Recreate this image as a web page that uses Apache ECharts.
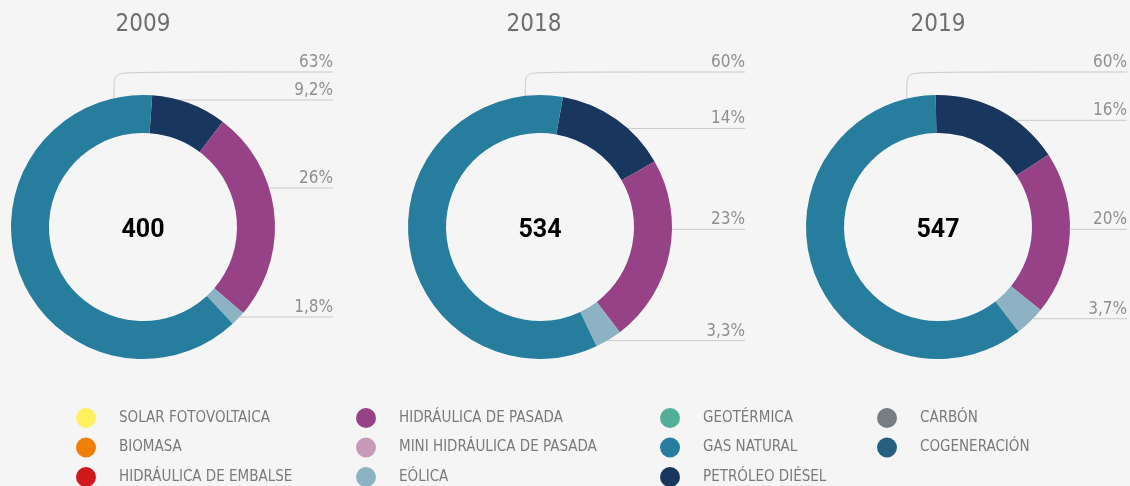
<!DOCTYPE html>
<html>
<head>
<meta charset="utf-8">
<script src="https://cdn.jsdelivr.net/npm/echarts@6/dist/echarts.min.js"></script>
<style>
  html, body { margin: 0; padding: 0; background: #f5f5f5; }
  #main { width: 1130px; height: 486px; }
</style>
</head>
<body>
<div id="main"></div>
<script>
// categories (legend order)
const categories = [
  'SOLAR FOTOVOLTAICA',
  'BIOMASA',
  'HIDRÁULICA DE EMBALSE',
  'HIDRÁULICA DE PASADA',
  'MINI HIDRÁULICA DE PASADA',
  'EÓLICA',
  'GEOTÉRMICA',
  'GAS NATURAL',
  'PETRÓLEO DIÉSEL',
  'CARBÓN',
  'COGENERACIÓN',
]
const colors = [
  '#fff05f', '#f07f0a', '#d0171c', '#974287', '#c79ab9', '#8cb2c3',
  '#52ae98', '#267d9d', '#18365e', '#767d83', '#27607f',
]
const years = ['2009', '2018', '2019']
const totals = [400, 534, 547]
// share in %, same order as categories
const share2009 = [0, 0, 0, 26, 0, 1.8, 0, 63, 9.2, 0, 0]
const share2018 = [0, 0, 0, 23, 0, 3.3, 0, 60, 14, 0, 0]
const share2019 = [0, 0, 0, 20, 0, 3.7, 0, 60, 16, 0, 0]
const shares = [share2009, share2018, share2019]
// clockwise drawing order of the ring
const ringOrder = [
  'PETRÓLEO DIÉSEL', 'HIDRÁULICA DE PASADA', 'EÓLICA', 'GAS NATURAL',
  'SOLAR FOTOVOLTAICA', 'BIOMASA', 'HIDRÁULICA DE EMBALSE',
  'MINI HIDRÁULICA DE PASADA', 'GEOTÉRMICA', 'CARBÓN', 'COGENERACIÓN',
]
const legendColumns = [
  ['SOLAR FOTOVOLTAICA', 'BIOMASA', 'HIDRÁULICA DE EMBALSE'],
  ['HIDRÁULICA DE PASADA', 'MINI HIDRÁULICA DE PASADA', 'EÓLICA'],
  ['GEOTÉRMICA', 'GAS NATURAL', 'PETRÓLEO DIÉSEL'],
  ['CARBÓN', 'COGENERACIÓN'],
]

// layout of each donut (pixels) and where leader lines leave the ring
// (degrees clockwise from 12 o'clock)
const NARROW = "'Liberation Sans Narrow', 'DejaVu Sans Condensed', 'Roboto', sans-serif"
const R_IN = 94
const R_OUT = 132
const TOP_LINE = 72
const donuts = [
  { cx: 143, cy: 227, start: 86, edge: 333, titleX: 143,
    leader: { 'PETRÓLEO DIÉSEL': 15.8, 'HIDRÁULICA DE PASADA': 72.8, 'EÓLICA': 133, 'GAS NATURAL': -12.7 } },
  { cx: 540, cy: 227, start: 80, edge: 745, titleX: 534,
    leader: { 'PETRÓLEO DIÉSEL': 41.7, 'HIDRÁULICA DE PASADA': 91, 'EÓLICA': 149.4, 'GAS NATURAL': -6.4 } },
  { cx: 938, cy: 227, start: 91, edge: 1127, titleX: 938,
    leader: { 'PETRÓLEO DIÉSEL': 36.1, 'HIDRÁULICA DE PASADA': 91, 'EÓLICA': 134, 'GAS NATURAL': -13.7 } },
]

function fmtPct(v) {
  return String(v).replace('.', ',') + '%'
}

function buildSeries(d, i) {
  const data = ringOrder.map((name) => {
    const idx = categories.indexOf(name)
    const value = shares[i][idx]
    const item = { name: name, value: value, itemStyle: { color: colors[idx] } }
    if (!value) {
      item.label = { show: false }
      item.labelLine = { show: false }
    }
    return item
  })
  return {
    type: 'pie',
    name: years[i],
    center: [d.cx, d.cy],
    radius: [R_IN, R_OUT],
    startAngle: d.start,
    clockwise: true,
    silent: true,
    avoidLabelOverlap: false,
    label: {
      show: true,
      position: 'outside',
      formatter: (p) => fmtPct(p.value),
      color: '#8f8f8f',
      fontSize: 17,
      fontFamily: NARROW,
    },
    labelLine: {
      show: true,
      smooth: 0.25,
      lineStyle: { color: '#c9c9c9', width: 1 },
    },
    labelLayout: (params) => {
      const name = data[params.dataIndex].name
      const a = (d.leader[name] || 0) * Math.PI / 180
      const px = d.cx + R_OUT * Math.sin(a)
      const py = d.cy - R_OUT * Math.cos(a)
      let lineY = py
      let points = [[px, py], [px, py], [d.edge, py]]
      if (name === 'GAS NATURAL') {
        lineY = TOP_LINE
        points = [[px, py], [px, TOP_LINE], [d.edge, TOP_LINE]]
      }
      return {
        x: d.edge,
        y: lineY - 1,
        align: 'right',
        verticalAlign: 'bottom',
        labelLinePoints: points,
      }
    },
    data: data,
  }
}

let chart = echarts.init(document.getElementById('main'))

let titles = []
donuts.forEach((d, i) => {
  titles.push({
    text: years[i],
    left: d.titleX,
    top: 25,
    padding: 0,
    textAlign: 'center',
    textVerticalAlign: 'middle',
    textStyle: { color: '#6e6e6e', fontSize: 24, fontWeight: 'normal', fontFamily: NARROW },
  })
  titles.push({
    text: String(totals[i]),
    left: d.cx,
    top: 231,
    padding: 0,
    textAlign: 'center',
    textVerticalAlign: 'middle',
    textStyle: { color: '#000', fontSize: 25, fontWeight: 'bold', fontFamily: "'Roboto', sans-serif" },
  })
})

const legendLeft = [76, 356, 660, 877]
let legends = legendColumns.map((col, k) => ({
  data: col,
  orient: 'vertical',
  left: legendLeft[k],
  top: 408,
  height: 100,
  padding: 0,
  icon: 'circle',
  itemWidth: 20,
  itemHeight: 20,
  itemGap: 9.5,
  selectedMode: false,
  textStyle: { color: '#7a7a7a', fontSize: 15, fontFamily: NARROW, padding: [0, 0, 0, 18] },
}))

let option = {
  backgroundColor: '#f5f5f5',
  animation: false,
  title: titles,
  legend: legends,
  series: donuts.map(buildSeries),
}
chart.setOption(option)
</script>
</body>
</html>
